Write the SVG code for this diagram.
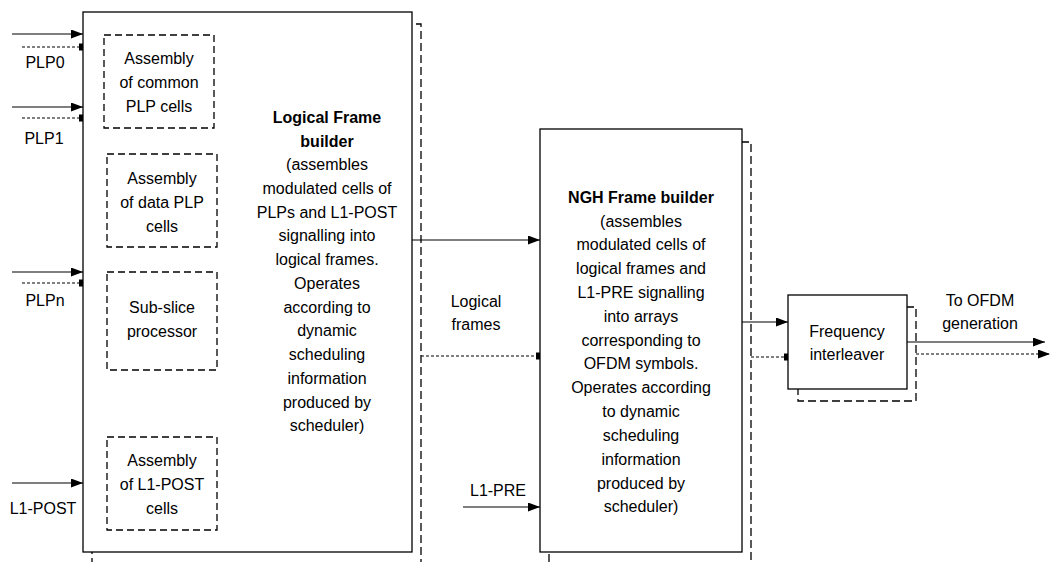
<svg xmlns="http://www.w3.org/2000/svg" width="1050" height="562" viewBox="0 0 1050 562">
  <style>
    .t { font-family: "Liberation Sans", Arial, sans-serif; font-size: 16px; fill: #000; text-anchor: middle; }
    .b { font-weight: bold; }
    .box { fill: #fff; stroke: #000; stroke-width: 1.3; }
    .shadow { fill: none; stroke: #000; stroke-width: 1.3; stroke-dasharray: 8 4; }
    .inner { fill: none; stroke: #000; stroke-width: 1.3; stroke-dasharray: 7 4; }
    .sol { fill: none; stroke: #000; stroke-width: 1.2; marker-end: url(#arrow); }
    .dsh { fill: none; stroke: #000; stroke-width: 1.2; stroke-dasharray: 3 2; marker-end: url(#sq); }
    .dsha { fill: none; stroke: #000; stroke-width: 1.2; stroke-dasharray: 3 2; marker-end: url(#arrow); }
  </style>
  <defs>
    <marker id="arrow" markerUnits="userSpaceOnUse" markerWidth="13" markerHeight="9" refX="12" refY="4.5" orient="auto">
      <path d="M0,0 L12,4.5 L0,9 z" fill="#000"/>
    </marker>
    <marker id="sq" markerUnits="userSpaceOnUse" markerWidth="5" markerHeight="8" refX="4" refY="4" orient="auto">
      <rect x="0" y="0.5" width="4" height="7" fill="#000"/>
    </marker>
  </defs>
  <rect width="1050" height="562" fill="#fff"/>

  <!-- Logical Frame builder with its dashed shadow and sub-blocks -->
  <g id="logical-frame-builder">
    <rect class="shadow" x="92" y="24" width="329" height="560"/>
    <rect class="box" x="83" y="12" width="329" height="540"/>
    <text class="t b" x="327" y="123">Logical Frame</text>
    <text class="t b" x="327" y="147">builder</text>
    <text class="t" x="327" y="170">(assembles</text>
    <text class="t" x="327" y="194">modulated cells of</text>
    <text class="t" x="327" y="218">PLPs and L1-POST</text>
    <text class="t" x="327" y="241">signalling into</text>
    <text class="t" x="327" y="265">logical frames.</text>
    <text class="t" x="327" y="289">Operates</text>
    <text class="t" x="327" y="313">according to</text>
    <text class="t" x="327" y="336">dynamic</text>
    <text class="t" x="327" y="360">scheduling</text>
    <text class="t" x="327" y="384">information</text>
    <text class="t" x="327" y="408">produced by</text>
    <text class="t" x="327" y="431">scheduler)</text>
  </g>

  <g id="assembly-common-plp">
    <rect class="inner" x="104" y="35" width="110" height="93"/>
    <text class="t" x="159" y="64">Assembly</text>
    <text class="t" x="159" y="88">of common</text>
    <text class="t" x="159" y="112">PLP cells</text>
  </g>

  <g id="assembly-data-plp">
    <rect class="inner" x="107" y="154" width="110" height="93"/>
    <text class="t" x="162" y="184">Assembly</text>
    <text class="t" x="162" y="208">of data PLP</text>
    <text class="t" x="162" y="232">cells</text>
  </g>

  <g id="sub-slice-processor">
    <rect class="inner" x="107" y="272" width="110" height="98"/>
    <text class="t" x="162" y="313">Sub-slice</text>
    <text class="t" x="162" y="337">processor</text>
  </g>

  <g id="assembly-l1-post">
    <rect class="inner" x="107" y="437" width="110" height="93"/>
    <text class="t" x="162" y="466">Assembly</text>
    <text class="t" x="162" y="490">of L1-POST</text>
    <text class="t" x="162" y="514">cells</text>
  </g>

  <!-- NGH Frame builder -->
  <g id="ngh-frame-builder">
    <rect class="shadow" x="549" y="142" width="202" height="440"/>
    <rect class="box" x="540" y="129" width="202" height="423"/>
    <text class="t b" x="641" y="203">NGH Frame builder</text>
    <text class="t" x="641" y="227">(assembles</text>
    <text class="t" x="641" y="250">modulated cells of</text>
    <text class="t" x="641" y="274">logical frames and</text>
    <text class="t" x="641" y="298">L1-PRE signalling</text>
    <text class="t" x="641" y="322">into arrays</text>
    <text class="t" x="641" y="346">corresponding to</text>
    <text class="t" x="641" y="369">OFDM symbols.</text>
    <text class="t" x="641" y="393">Operates according</text>
    <text class="t" x="641" y="417">to dynamic</text>
    <text class="t" x="641" y="441">scheduling</text>
    <text class="t" x="641" y="465">information</text>
    <text class="t" x="641" y="489">produced by</text>
    <text class="t" x="641" y="512">scheduler)</text>
  </g>

  <!-- Frequency interleaver -->
  <g id="frequency-interleaver">
    <rect class="shadow" x="798" y="307" width="118" height="94"/>
    <rect class="box" x="788" y="295" width="119" height="94"/>
    <text class="t" x="847" y="337">Frequency</text>
    <text class="t" x="847" y="360">interleaver</text>
  </g>

  <!-- Connectors -->
  <g id="connectors">
    <line class="sol" x1="12" y1="34" x2="83" y2="34"/>
    <line class="dsh" x1="22" y1="47" x2="83" y2="47"/>
    <line class="sol" x1="12" y1="107" x2="83" y2="107"/>
    <line class="dsh" x1="22" y1="118" x2="83" y2="118"/>
    <line class="sol" x1="12" y1="272" x2="83" y2="272"/>
    <line class="dsh" x1="22" y1="283" x2="83" y2="283"/>
    <line class="sol" x1="12" y1="483" x2="83" y2="483"/>

    <line class="sol" x1="412" y1="240" x2="540" y2="240"/>
    <line class="dsh" x1="421" y1="356" x2="540" y2="356"/>
    <line class="sol" x1="463" y1="507" x2="540" y2="507"/>

    <line class="sol" x1="742" y1="322" x2="788" y2="322"/>
    <line class="dsh" x1="751" y1="357" x2="788" y2="357"/>

    <line class="sol" x1="907" y1="342" x2="1045" y2="342"/>
    <line class="dsha" x1="916" y1="354" x2="1050" y2="354"/>
  </g>

  <!-- Connector labels -->
  <g id="labels">
    <text class="t" x="45" y="68">PLP0</text>
    <text class="t" x="44" y="144">PLP1</text>
    <text class="t" x="45" y="306">PLPn</text>
    <text class="t" x="43" y="514">L1-POST</text>
    <text class="t" x="476" y="307">Logical</text>
    <text class="t" x="476" y="330">frames</text>
    <text class="t" x="498" y="496">L1-PRE</text>
    <text class="t" x="980" y="306">To OFDM</text>
    <text class="t" x="980" y="329">generation</text>
  </g>
</svg>
